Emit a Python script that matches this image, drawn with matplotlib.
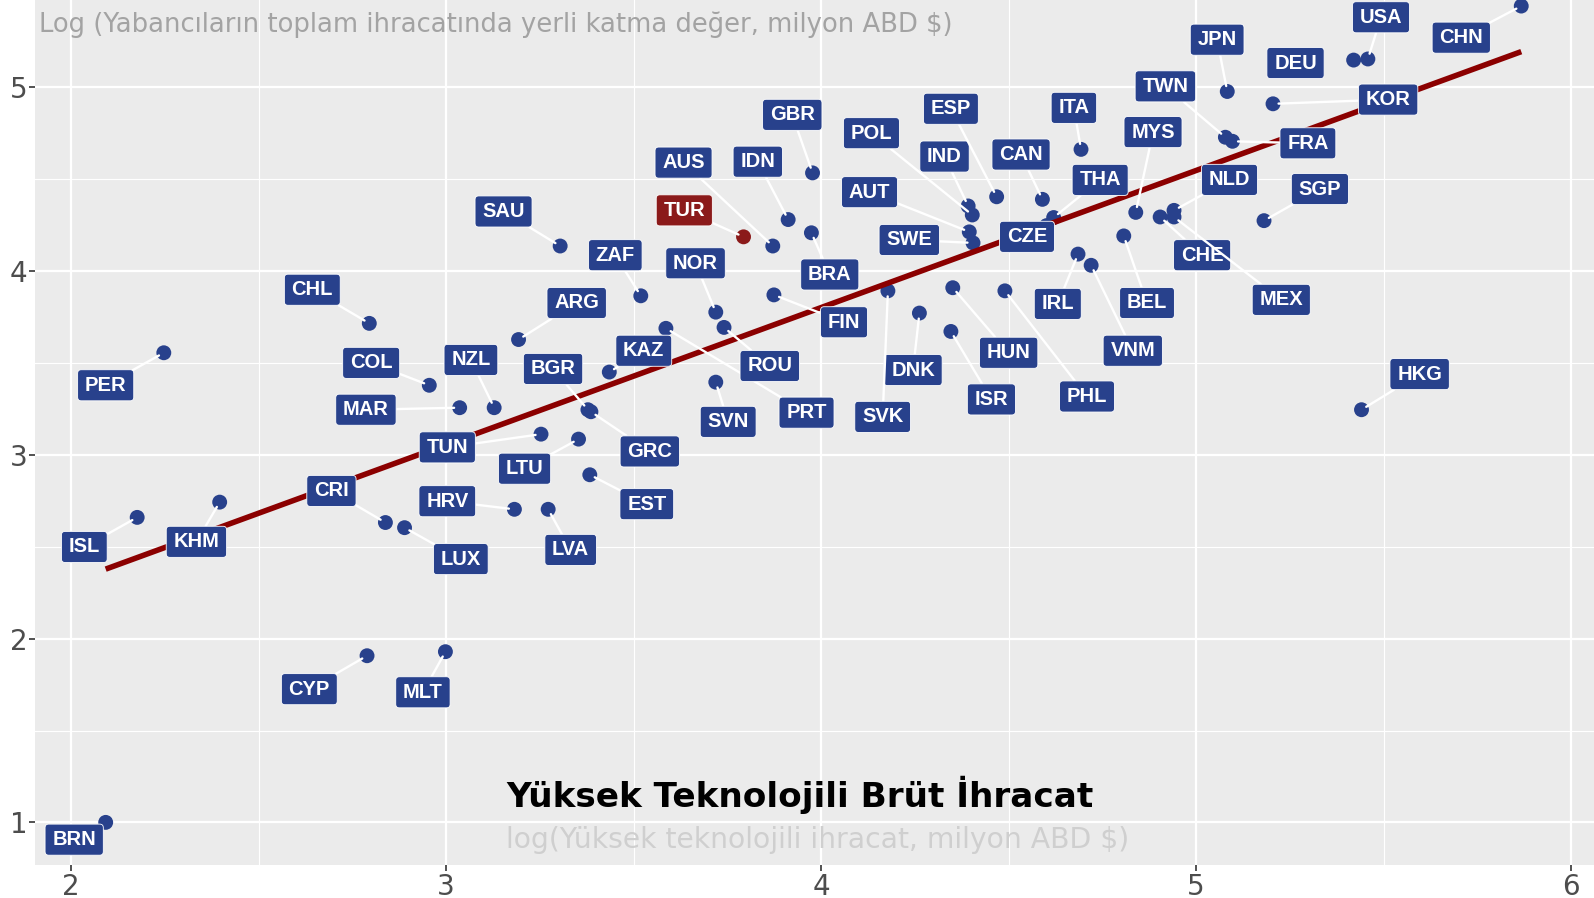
import matplotlib
matplotlib.use("Agg")
import matplotlib.pyplot as plt
import numpy as np
from matplotlib.patches import BoxStyle

# data: log high-tech exports (x) vs log domestic value added in foreign exports (y)
codes = ["BRN", "PER", "ISL", "KHM", "CHL", "COL", "MAR", "NZL", "CRI", "LUX",
         "CYP", "MLT", "HRV", "LVA", "EST", "TUN", "LTU", "BGR", "GRC", "KAZ",
         "ARG", "ZAF", "SAU", "PRT", "NOR", "ROU", "SVN", "AUS", "TUR", "IDN",
         "GBR", "BRA", "FIN", "POL", "IND", "ESP", "AUT", "SWE", "CAN", "THA",
         "CZE", "DNK", "SVK", "HUN", "ISR", "PHL", "IRL", "VNM", "BEL", "MYS",
         "ITA", "CHE", "NLD", "MEX", "SGP", "TWN", "FRA", "JPN", "KOR", "DEU",
         "USA", "CHN", "HKG"]
x_vals = [2.092, 2.247, 2.176, 2.396, 2.795, 2.955, 3.036, 3.128, 2.838, 2.889,
          2.789, 2.998, 3.182, 3.272, 3.383, 3.253, 3.353, 3.378, 3.386, 3.435,
          3.193, 3.519, 3.304, 3.586, 3.719, 3.741, 3.719, 3.871, 3.793, 3.912,
          3.977, 3.974, 3.874, 4.403, 4.392, 4.468, 4.395, 4.405, 4.590, 4.620,
          4.601, 4.262, 4.178, 4.351, 4.346, 4.490, 4.685, 4.720, 4.807, 4.839,
          4.693, 4.904, 4.941, 4.941, 5.181, 5.078, 5.097, 5.083, 5.205, 5.420,
          5.458, 5.867, 5.441]
y_vals = [1.000, 3.556, 2.660, 2.743, 3.716, 3.379, 3.257, 3.257, 2.632, 2.604,
          1.907, 1.929, 2.704, 2.704, 2.892, 3.113, 3.086, 3.246, 3.235, 3.451,
          3.628, 3.866, 4.137, 3.689, 3.777, 3.694, 3.396, 4.137, 4.187, 4.281,
          4.535, 4.209, 3.871, 4.306, 4.355, 4.405, 4.214, 4.154, 4.391, 4.292,
          4.248, 3.772, 3.893, 3.910, 3.672, 3.893, 4.093, 4.032, 4.192, 4.320,
          4.663, 4.295, 4.331, 4.295, 4.275, 4.729, 4.707, 4.978, 4.911, 5.149,
          5.155, 5.443, 3.246]

highlight = "TUR"

# where the repelled labels sit (data coords)
label_xy = {
    "BRN": (2.008, 0.906), "PER": (2.092, 3.379), "ISL": (2.035, 2.499), "KHM": (2.334, 2.527),
    "CHL": (2.643, 3.899), "COL": (2.800, 3.501), "MAR": (2.786, 3.246), "NZL": (3.066, 3.517),
    "CRI": (2.694, 2.804), "LUX": (3.039, 2.433), "CYP": (2.635, 1.725), "MLT": (2.938, 1.708),
    "HRV": (3.003, 2.748), "LVA": (3.332, 2.483), "EST": (3.535, 2.732), "TUN": (3.003, 3.041),
    "LTU": (3.209, 2.925), "BGR": (3.285, 3.468), "GRC": (3.543, 3.019), "KAZ": (3.527, 3.567),
    "ARG": (3.348, 3.827), "ZAF": (3.451, 4.087), "SAU": (3.153, 4.325), "PRT": (3.961, 3.230),
    "NOR": (3.665, 4.043), "ROU": (3.863, 3.484), "SVN": (3.752, 3.180), "AUS": (3.633, 4.591),
    "TUR": (3.635, 4.331), "IDN": (3.831, 4.596), "GBR": (3.923, 4.851), "BRA": (4.023, 3.982),
    "FIN": (4.061, 3.722), "POL": (4.134, 4.751), "IND": (4.329, 4.624), "ESP": (4.346, 4.884),
    "AUT": (4.129, 4.430), "SWE": (4.235, 4.170), "CAN": (4.533, 4.635), "THA": (4.744, 4.497),
    "CZE": (4.549, 4.187), "DNK": (4.245, 3.462), "SVK": (4.164, 3.207), "HUN": (4.500, 3.556),
    "ISR": (4.454, 3.302), "PHL": (4.709, 3.318), "IRL": (4.631, 3.822), "VNM": (4.831, 3.567),
    "BEL": (4.869, 3.827), "MYS": (4.885, 4.757), "ITA": (4.674, 4.889), "CHE": (5.016, 4.087),
    "NLD": (5.089, 4.497), "MEX": (5.227, 3.844), "SGP": (5.330, 4.447), "TWN": (4.918, 5.006),
    "FRA": (5.298, 4.696), "JPN": (5.056, 5.260), "KOR": (5.512, 4.934), "DEU": (5.265, 5.133),
    "USA": (5.493, 5.382), "CHN": (5.707, 5.271), "HKG": (5.596, 3.440),
}
no_segment = {"DEU", "CZE", "BRN"}

blue = "#28418c"
red = "#8b1a1a"


def label_box(x0, y0, width, height, mutation_size):
    # wider than tall padding, like ggrepel labels
    padx = 0.36 * mutation_size
    pady = 0.30 * mutation_size
    return BoxStyle.Round(pad=0, rounding_size=0.18)(
        x0 - padx, y0 - pady, width + 2 * padx, height + 2 * pady, mutation_size)


fig = plt.figure(figsize=(15.94, 8.98), dpi=100)
ax = fig.add_axes([35 / 1594, 33 / 898, 1559 / 1594, 865 / 898])
ax.set_facecolor("#ebebeb")
for s in ax.spines.values():
    s.set_visible(False)

ax.set_xlim(1.9035, 6.061)
ax.set_ylim(0.768, 5.476)
ax.set_xticks([2, 3, 4, 5, 6])
ax.set_yticks([1, 2, 3, 4, 5])
ax.set_xticks(np.arange(2.5, 6, 1), minor=True)
ax.set_yticks(np.arange(1.5, 5.5, 1), minor=True)
ax.grid(True, which="major", color="white", lw=1.6)
ax.grid(True, which="minor", color="white", lw=0.8)
ax.set_axisbelow(True)
ax.tick_params(which="major", length=4.5, width=1.2, color="#333333",
               labelcolor="#4d4d4d", labelsize=20, pad=1)
ax.tick_params(which="minor", length=0)
for t in ax.get_xticklabels() + ax.get_yticklabels():
    t.set_family("DejaVu Sans")

x = np.array(x_vals)
y = np.array(y_vals)
cols = [red if c == highlight else blue for c in codes]
ax.scatter(x, y, s=115, c=cols, zorder=2, linewidths=0)

# linear fit
b, a = np.polyfit(x, y, 1)
xs = np.array([x.min(), x.max()])
ax.plot(xs, a + b * xs, color="#8b0000", lw=4, zorder=2.5, solid_capstyle="butt")

for c, px, py, col in zip(codes, x, y, cols):
    lx, ly = label_xy[c]
    arrow = None
    if c not in no_segment:
        arrow = dict(arrowstyle="-", color="white", lw=1.7, shrinkA=0, shrinkB=4)
    ax.annotate(c, xy=(px, py), xytext=(lx, ly), textcoords="data",
                ha="center", va="center", fontsize=14.5, fontweight="bold",
                color="white", family="Liberation Sans",
                bbox=dict(boxstyle=label_box, fc=col, ec="white", lw=0.6),
                arrowprops=arrow, zorder=4)

# axis titles drawn inside the panel
ylab = fig.text(38.6 / 1594, 1 - 31.7 / 898,
                "Log (Yabancıların toplam ihracatında yerli katma değer, milyon ABD $)",
                color="#a3a3a3", fontsize=20, family="DejaVu Sans", va="baseline")
title = fig.text(506 / 1594, 1 - 806.7 / 898, "Yüksek Teknolojili Brüt İhracat",
                 color="black", fontsize=22, fontweight="bold", family="DejaVu Sans",
                 va="baseline")
sub = fig.text(506 / 1594, 1 - 848 / 898, "log(Yüksek teknolojili ihracat, milyon ABD $)",
               color="#cfcfcf", fontsize=20, family="DejaVu Sans", va="baseline")

# scale the titles to the widths they have in the original
renderer = fig.canvas.get_renderer()
for t, target in [(ylab, 914), (title, 585), (sub, 625)]:
    w = t.get_window_extent(renderer).width
    t.set_fontsize(t.get_fontsize() * target / w)

fig.savefig("out.png", dpi=100)
